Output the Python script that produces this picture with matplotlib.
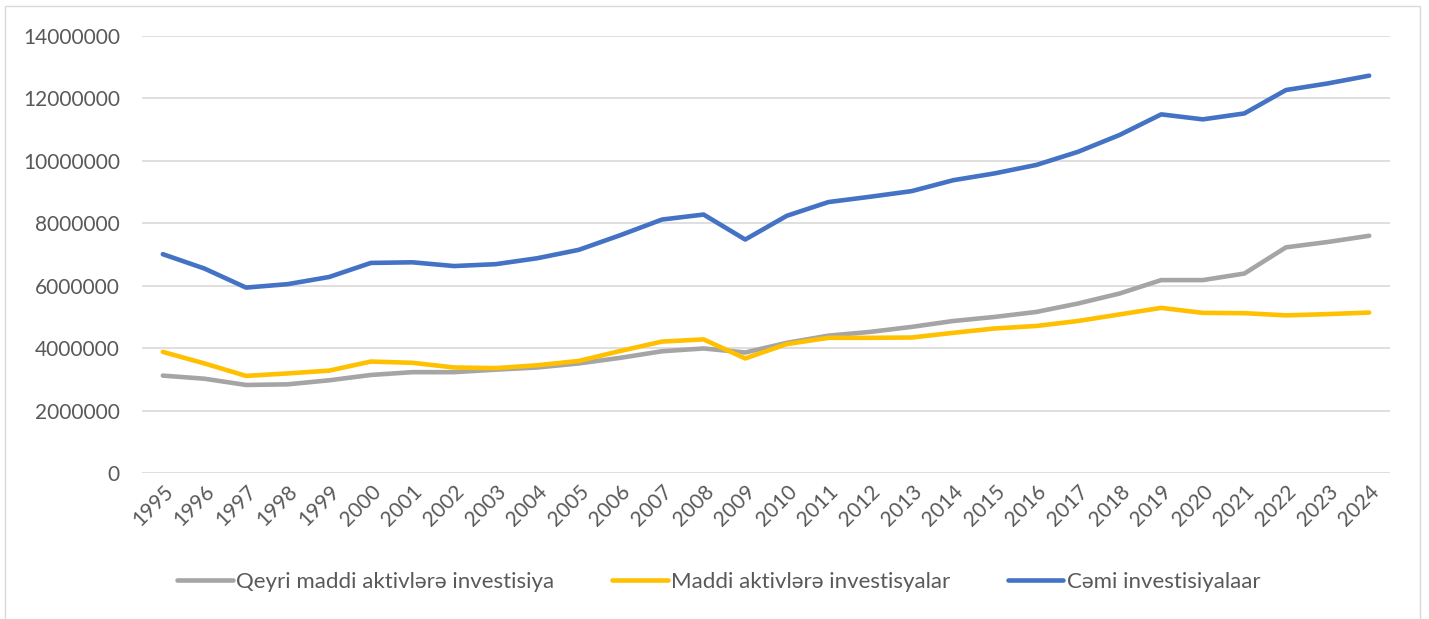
import matplotlib.pyplot as plt
from matplotlib.patches import Rectangle

plt.rcParams['font.family'] = ['Lato', 'DejaVu Sans']

years = [str(y) for y in range(1995, 2025)]
qeyri_maddi = [3.12, 3.02, 2.82, 2.84, 2.97, 3.14, 3.23, 3.23, 3.31, 3.38,
               3.51, 3.69, 3.90, 3.99, 3.86, 4.17, 4.40, 4.52, 4.68, 4.87,
               5.00, 5.16, 5.43, 5.75, 6.18, 6.18, 6.39, 7.23, 7.40, 7.60]
maddi = [3.88, 3.51, 3.11, 3.19, 3.28, 3.57, 3.53, 3.38, 3.36, 3.45,
         3.59, 3.91, 4.21, 4.28, 3.67, 4.13, 4.33, 4.33, 4.34, 4.49,
         4.63, 4.71, 4.87, 5.08, 5.29, 5.13, 5.12, 5.05, 5.09, 5.14]
cemi = [7.01, 6.55, 5.94, 6.05, 6.28, 6.73, 6.75, 6.63, 6.69, 6.88,
        7.15, 7.62, 8.12, 8.28, 7.48, 8.24, 8.68, 8.85, 9.03, 9.38,
        9.60, 9.87, 10.29, 10.83, 11.49, 11.33, 11.52, 12.27, 12.48, 12.73]
# values in millions
qeyri_maddi = [v * 1e6 for v in qeyri_maddi]
maddi = [v * 1e6 for v in maddi]
cemi = [v * 1e6 for v in cemi]

series_names = ["Qeyri maddi aktivlərə investisiya",
                "Maddi aktivlərə investisyalar",
                "Cəmi investisiyalaar"]

fig = plt.figure(figsize=(14.29, 6.19), dpi=100)
ax = fig.add_axes([0.0994, 0.2359, 0.8733, 0.7059])

x = range(len(years))
ax.plot(x, qeyri_maddi, color='#A5A5A5', lw=3.3, solid_capstyle='round', label=series_names[0])
ax.plot(x, maddi, color='#FFC000', lw=3.3, solid_capstyle='round', label=series_names[1])
ax.plot(x, cemi, color='#4472C4', lw=3.3, solid_capstyle='round', label=series_names[2])

ax.set_xlim(-0.5, len(years) - 0.5)
ax.set_ylim(0, 14000000)
ax.set_yticks(range(0, 14000001, 2000000))
ax.set_yticklabels([str(v) for v in range(0, 14000001, 2000000)])
ax.set_xticks(list(x))
ax.set_xticklabels(years, rotation=45, ha='right', rotation_mode='anchor')
ax.grid(axis='y', color='#D9D9D9', lw=1.2)
ax.set_axisbelow(True)
for s in ax.spines.values():
    s.set_visible(False)
ax.tick_params(length=0, labelsize=15, colors='#595959')
ax.tick_params(axis='y', pad=16)
ax.tick_params(axis='x', pad=6)

leg = fig.legend(loc='center', bbox_to_anchor=(0.503, 0.06), ncol=3, frameon=False,
                 fontsize=16, handlelength=2.5, handletextpad=0.15, columnspacing=2.6)
for t in leg.get_texts():
    t.set_color('#595959')

fig.patches.append(Rectangle((5 / 1429, -0.02), 1415 / 1429, 1.02 - 6 / 619,
                             transform=fig.transFigure, fill=False,
                             edgecolor='#D9D9D9', lw=1))

fig.savefig('out.png', dpi=100)
